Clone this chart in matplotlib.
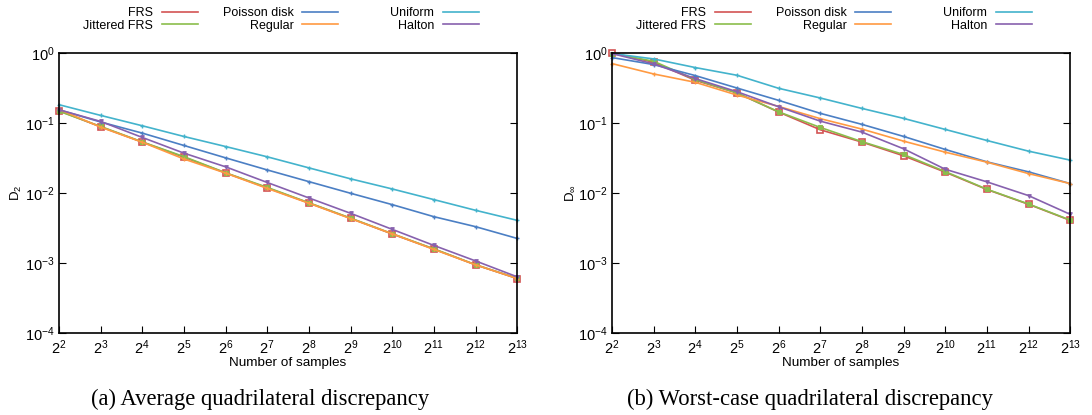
import numpy as np
import matplotlib
matplotlib.use("Agg")
import matplotlib.pyplot as plt
from matplotlib.lines import Line2D
from matplotlib.legend import Legend

plt.rcParams['font.family'] = ['Liberation Sans', 'DejaVu Sans']
plt.rcParams['mathtext.fontset'] = 'custom'
plt.rcParams['mathtext.rm'] = 'Liberation Sans'
plt.rcParams['mathtext.it'] = 'Liberation Sans:italic'

# sample counts as powers of two
exponents = np.arange(2, 14)
n_samples = 2.0 ** exponents

series_names = ["FRS", "Jittered FRS", "Poisson disk", "Regular", "Uniform", "Halton"]

# (a) average quadrilateral discrepancy D_2
avg_frs = [0.149, 0.088, 0.0532, 0.0324, 0.0193, 0.0118, 0.00719, 0.00434, 0.00259, 0.00158, 0.000941, 0.000600]
avg_jfrs = [0.147, 0.089, 0.0535, 0.0330, 0.0194, 0.0120, 0.00724, 0.00437, 0.00262, 0.00159, 0.000945, 0.000605]
avg_poisson = [0.154, 0.103, 0.0715, 0.0476, 0.0317, 0.0213, 0.0145, 0.00989, 0.00681, 0.00458, 0.00330, 0.00224]
avg_regular = [0.156, 0.087, 0.0530, 0.0305, 0.0192, 0.0116, 0.00712, 0.00430, 0.00261, 0.00156, 0.000941, 0.000600]
avg_uniform = [0.182, 0.128, 0.091, 0.064, 0.046, 0.0328, 0.0228, 0.0159, 0.0114, 0.00803, 0.00565, 0.00406]
avg_halton = [0.154, 0.105, 0.062, 0.037, 0.0236, 0.0141, 0.00848, 0.00512, 0.00302, 0.00178, 0.00107, 0.000634]

# (b) worst-case quadrilateral discrepancy D_inf
worst_frs = [1.0, 0.735, 0.406, 0.268, 0.143, 0.0798, 0.0532, 0.0339, 0.0198, 0.0112, 0.00689, 0.00406]
worst_jfrs = [0.978, 0.760, 0.415, 0.268, 0.144, 0.0862, 0.0540, 0.0354, 0.0202, 0.0113, 0.00695, 0.00410]
worst_poisson = [0.857, 0.681, 0.474, 0.315, 0.210, 0.137, 0.0953, 0.0641, 0.0418, 0.0278, 0.0200, 0.0136]
worst_regular = [0.703, 0.500, 0.380, 0.250, 0.172, 0.115, 0.0816, 0.0549, 0.0382, 0.0275, 0.0189, 0.0136]
worst_uniform = [0.978, 0.820, 0.617, 0.479, 0.312, 0.227, 0.161, 0.116, 0.0807, 0.0561, 0.0395, 0.0294]
worst_halton = [0.978, 0.696, 0.429, 0.279, 0.170, 0.106, 0.0739, 0.0427, 0.0218, 0.0144, 0.00916, 0.00495]

colors = {"FRS": "#d35454", "Jittered FRS": "#8bbd4c", "Poisson disk": "#4b7fc4",
          "Regular": "#ff9a42", "Uniform": "#43b3cc", "Halton": "#8761ae"}
styles = {"FRS": dict(marker='s', ms=3.8, mfc='none', mew=1.2),
          "Jittered FRS": dict(marker='s', ms=2.6, mew=0.8),
          "Poisson disk": dict(marker='+', ms=3.5, mew=1.0),
          "Regular": dict(marker='+', ms=3.5, mew=1.0),
          "Uniform": dict(marker='+', ms=3.5, mew=1.0),
          "Halton": dict(marker='v', ms=2.6, mew=0.8)}

panels = [
    ([avg_frs, avg_jfrs, avg_poisson, avg_regular, avg_uniform, avg_halton],
     r"D$_2$", "(a) Average quadrilateral discrepancy", 0.054, 0.238),
    ([worst_frs, worst_jfrs, worst_poisson, worst_regular, worst_uniform, worst_halton],
     r"D$_\infty$", "(b) Worst-case quadrilateral discrepancy", 0.5604, 0.742),
]

fig = plt.figure(figsize=(10.92, 4.15), dpi=100)

for data, ylab, caption, left, cap_x in panels:
    ax = fig.add_axes([left, 0.1976, 0.4196, 0.675])
    for name, vals in zip(series_names, data):
        ax.plot(n_samples, vals, color=colors[name], lw=1.2, label=name,
                clip_on=False, **styles[name])
    ax.set_xscale('log', base=2)
    ax.set_yscale('log')
    ax.set_xlim(4, 8192)
    ax.set_ylim(1e-4, 1)
    ax.set_xticks(n_samples)
    ax.set_xticklabels([r"$2^{%d}$" % e for e in exponents])
    ax.set_yticks([1e-4, 1e-3, 1e-2, 1e-1, 1])
    ax.set_yticklabels([r"$10^{%d}$" % e for e in range(-4, 1)])
    ax.minorticks_off()
    ax.tick_params(direction='in', top=False, right=True, length=5, width=0.8,
                   labelsize=10.5, pad=3)
    ax.tick_params(axis='x', pad=4)
    for s in ax.spines.values():
        s.set_linewidth(1.2)
    ax.set_xlabel("Number of samples", fontsize=9.7, labelpad=0)
    ax.set_ylabel(ylab, fontsize=9.5, labelpad=1)

    # gnuplot-style key: three fixed-width columns, text right-aligned before the line
    col_right = [0.303, 0.610, 0.917]
    for c in range(3):
        names = series_names[2 * c:2 * c + 2]
        hs = [Line2D([], [], color=colors[n], lw=1.2) for n in names]
        leg = Legend(ax, hs, names, ncol=1, loc='upper right',
                     bbox_to_anchor=(col_right[c], 1.164), frameon=False,
                     markerfirst=False, fontsize=9, handlelength=2.9,
                     handletextpad=0.7, labelspacing=0.05, borderpad=0,
                     borderaxespad=0)
        ax.add_artist(leg)

    fig.text(cap_x, 0.038, caption, ha='center', va='center',
             fontsize=16.3, family=['Liberation Serif', 'DejaVu Serif'])

fig.savefig("out.png", dpi=100)
